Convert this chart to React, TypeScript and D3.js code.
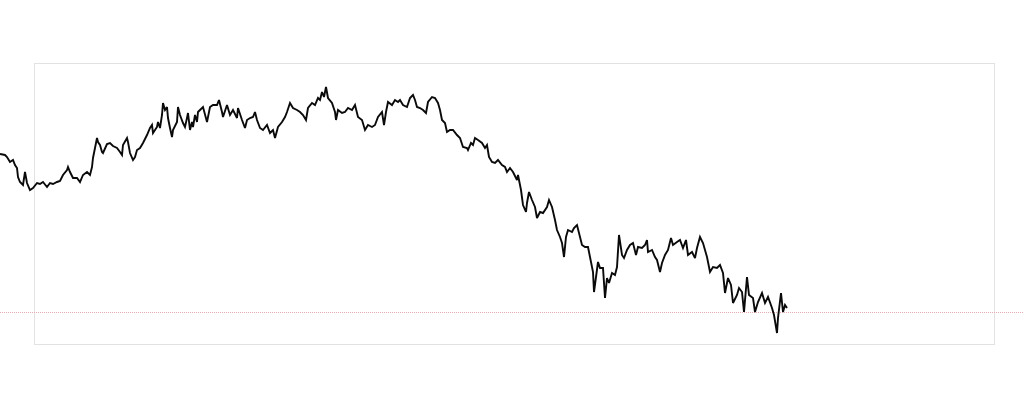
import React from "react";
import * as d3 from "d3";

const days: number[] = [
  0, 5, 7, 10, 13, 15, 17, 18, 20, 23, 25, 27, 30, 33, 37, 40, 43, 47, 50, 53, 57, 60, 63, 67, 68, 70, 73, 77, 80, 83, 87, 90, 92, 93, 95, 97, 98, 100,
  102, 103, 107, 110, 113, 117, 120, 122, 123, 127, 128, 130, 133, 135, 137, 140, 143, 147, 150, 152, 153, 157, 158, 160, 162, 163, 165, 167, 168, 170,
  172, 173, 177, 178, 180, 183, 185, 187, 188, 190, 192, 193, 195, 197, 198, 200,
  203, 207, 210, 213, 217, 219, 222, 223, 227, 230, 233, 237, 238, 242, 245, 247, 250, 253, 255, 257, 260, 263, 267, 270, 273, 275, 278, 282, 285, 287,
  290, 293, 297, 300, 303, 306, 308, 312, 315, 318, 320, 322, 324, 326, 328, 332, 335, 336, 338, 342, 345, 348, 352, 355, 358, 362, 365, 368, 372, 375,
  378, 382, 384, 386, 388, 392, 395, 398,
  400, 403, 407, 410, 413, 415, 417, 420, 423, 426, 428, 432, 435, 438, 440, 442, 445, 447, 450, 453, 457, 460, 463, 467, 468, 471, 473, 475, 478, 482,
  485, 487, 489, 492, 495, 498, 502, 505, 507, 510, 513, 517, 518, 521, 523, 526, 527, 529, 532, 535, 537, 540, 543, 547, 549, 552, 555, 557, 560, 562,
  564, 566, 568, 572, 574, 577, 579, 582, 585, 588, 590, 593, 594, 596, 598, 600,
  603, 605, 607, 609, 612, 615, 617, 619, 622, 624, 627, 630, 633, 636, 638, 642, 645, 647, 648, 652, 655, 657, 660, 662, 665, 668, 671, 673, 677, 680,
  683, 686, 688, 692, 695, 697, 700, 703, 707, 710, 713, 717, 720, 723, 725, 728, 731, 733, 737, 739, 742, 744, 747, 749, 753, 755, 758, 762, 765, 768,
  772, 774, 777, 778, 781, 783, 785, 787,
];

const prices: number[] = [
  190, 189, 187, 182, 184, 179, 176, 167, 162, 159, 172, 161, 154, 156, 161, 160, 162, 157, 161, 160, 162, 163, 169, 174, 177, 172, 166, 166, 162, 169, 172, 169, 177, 186, 196, 206, 202, 199,
  192, 191, 200, 201, 198, 196, 192, 189, 199, 206, 202, 191, 184, 187, 194, 196, 201, 209, 216, 219, 211, 217, 222, 216, 229, 241, 234, 237, 226, 216,
  207, 214, 222, 237, 229, 221, 217, 226, 231, 214, 222, 217, 229, 222, 232, 234,
  237, 222, 237, 239, 239, 244, 232, 227, 239, 229, 234, 226, 236, 224, 216, 224, 226, 227, 232, 224, 216, 214, 219, 211, 214, 206, 217, 222, 227, 232,
  241, 236, 234, 232, 229, 224, 236, 241, 239, 246, 244, 252, 247, 257, 246, 241, 232, 224, 234, 231, 232, 236, 234, 239, 227, 224, 214, 219, 217, 219,
  227, 232, 219, 232, 242, 239, 244, 242,
  244, 239, 237, 246, 249, 244, 237, 236, 234, 231, 242, 247, 246, 241, 234, 224, 221, 212, 214, 214, 209, 206, 197, 196, 194, 201, 199, 206, 204, 201,
  196, 199, 187, 182, 181, 184, 179, 177, 172, 176, 172, 164, 169, 154, 139, 132, 141, 152, 144, 137, 126, 132, 131, 137, 144, 137, 124, 114, 107, 101,
  87, 107, 114, 112, 116, 119, 111, 99, 97, 97, 87, 72, 52, 67, 82, 76,
  76, 46, 66, 61, 71, 69, 77, 109, 89, 86, 94, 99, 101, 89, 97, 96, 99, 104, 92, 94, 87, 84, 72, 81, 89, 94, 106, 99, 102, 104,
  96, 104, 89, 92, 86, 96, 107, 101, 87, 72, 77, 76, 79, 71, 51, 66, 59, 41, 49, 56, 52, 32, 67, 49, 46, 32, 42, 51, 41, 47,
  36, 29, 11, 26, 51, 32, 39, 36,
];

const referenceLevel: number[] = [32];
const priceDomain: number[] = [0, 281];

export default function App() {
  const width = 1024;
  const height = 404;
  const frame = { left: 34.5, top: 63.5, right: 994.5, bottom: 344.5 };

  const x = d3.scaleLinear().domain([0, 787]).range([0, 787]);
  const y = d3.scaleLinear().domain(priceDomain).range([344, 63]);

  const data = days.map((d, i) => ({ d, v: prices[i] }));
  const line = d3
    .line<{ d: number; v: number }>()
    .x((p) => x(p.d))
    .y((p) => y(p.v));

  return (
    <div style={{ position: "absolute", left: 0, top: 0, width, height, background: "#fff" }}>
      <svg width={width} height={height} style={{ display: "block" }}>
        <rect
          x={frame.left}
          y={frame.top}
          width={frame.right - frame.left}
          height={frame.bottom - frame.top}
          fill="none"
          stroke="#e2e2e2"
          strokeWidth={1}
        />
        {referenceLevel.map((r, i) => (
          <line
            key={i}
            x1={0}
            x2={width}
            y1={Math.round(y(r)) + 0.5}
            y2={Math.round(y(r)) + 0.5}
            stroke="#e3aab2"
            strokeWidth={1}
            strokeDasharray="1,1"
          />
        ))}
        <path
          d={line(data) || ""}
          fill="none"
          stroke="#0a0a0a"
          strokeWidth={1.9}
          strokeLinejoin="miter"
          strokeMiterlimit={3}
        />
      </svg>
    </div>
  );
}
